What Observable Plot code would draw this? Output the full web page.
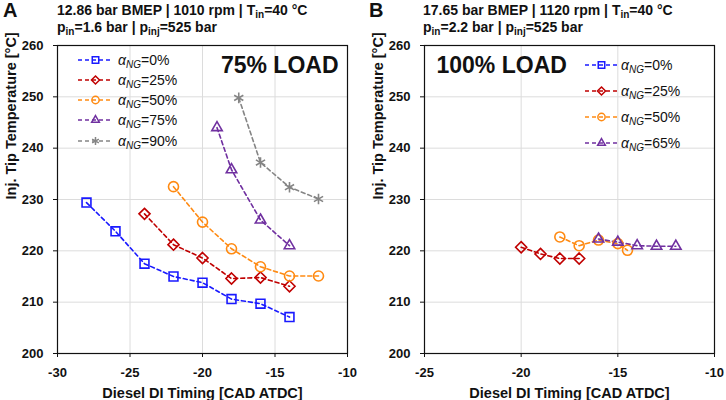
<!DOCTYPE html>
<html>
<head>
<meta charset="utf-8">
<script src="https://cdn.jsdelivr.net/npm/d3@7"></script>
<script src="https://cdn.jsdelivr.net/npm/@observablehq/plot@0.6"></script>
<style>
  body { margin: 0; background: #fff; font-family: "Liberation Sans", Arial, sans-serif; color: #111; }
  #wrap { position: relative; width: 726px; height: 400px; overflow: hidden; }
  #wrap svg.plot { position: absolute; top: 0; }
  .abs { position: absolute; white-space: nowrap; }
  .hdr { font-weight: bold; font-size: 14px; line-height: 16px; }
  .sb { font-size: 10px; position: relative; top: 3px; }
  .letter { font-weight: bold; font-size: 20px; line-height: 20px; }
  .leg { font-size: 14px; line-height: 16px; }
  .leg .sb { font-size: 10px; font-style: italic; top: 3px; }
</style>
</head>
<body>
<div id="wrap"></div>
<script>
// ---------- data ----------
// Panel A: 75% load
const aLabels = ["0%", "25%", "50%", "75%", "90%"];
const a0Timing = [-28, -26, -24, -22, -20, -18, -16, -14];
const a0Temp   = [229.4, 223.8, 217.5, 215.0, 213.8, 210.6, 209.7, 207.1];
const a25Timing = [-24, -22, -20, -18, -16, -14];
const a25Temp   = [227.2, 221.2, 218.6, 214.6, 214.8, 213.1];
const a50Timing = [-22, -20, -18, -16, -14, -12];
const a50Temp   = [232.5, 225.6, 220.4, 216.9, 215.1, 215.1];
const a75Timing = [-19, -18, -16, -14];
const a75Temp   = [244.0, 235.8, 226.0, 221.0];
const a90Timing = [-17.5, -16, -14, -12];
const a90Temp   = [249.8, 237.2, 232.4, 230.1];

// Panel B: 100% load
const bLabels = ["0%", "25%", "50%", "65%"];
const b0Timing = [];
const b0Temp   = [];
const b25Timing = [-20, -19, -18, -17];
const b25Temp   = [220.7, 219.4, 218.5, 218.5];
const b50Timing = [-18, -17, -16, -15, -14.5];
const b50Temp   = [222.7, 221.0, 222.1, 221.4, 220.1];
const b65Timing = [-16, -15, -14, -13, -12];
const b65Temp   = [222.3, 221.7, 221.0, 220.9, 220.9];

const aColors = ["#1a1aff", "#c00000", "#ff8a12", "#7030a0", "#858585"];
const bColors = ["#1a1aff", "#c00000", "#ff8a12", "#7030a0"];
const aSymbols = ["square", "diamond2", "circle", "triangle2", "asterisk"];
const bSymbols = ["square", "diamond2", "circle", "triangle2"];

const aXTicks = [-30, -25, -20, -15, -10];
const bXTicks = [-25, -20, -15, -10];
const yTicks = [200, 210, 220, 230, 240, 250, 260];

const xLabel = "Diesel DI Timing [CAD ATDC]";
const yLabel = "Inj. Tip Temperature [°C]";

// ---------- build rows ----------
function rows(labels, timings, temps) {
  const out = [];
  labels.forEach((lab, i) => {
    timings[i].forEach((t, j) => out.push({series: lab, timing: t, temp: temps[i][j]}));
  });
  return out;
}
const aRows = rows(aLabels, [a0Timing, a25Timing, a50Timing, a75Timing, a90Timing],
                            [a0Temp, a25Temp, a50Temp, a75Temp, a90Temp]);
const bRows = rows(bLabels, [b0Timing, b25Timing, b50Timing, b65Timing],
                            [b0Temp, b25Temp, b50Temp, b65Temp]);

function panel({data, labels, colors, symbols, xTicks, ml, mr, loadText, loadAnchor, loadDx}) {
  return Plot.plot({
    width: 363, height: 400,
    marginTop: 45, marginBottom: 47, marginLeft: ml, marginRight: mr,
    x: {domain: [xTicks[0], xTicks[xTicks.length - 1]]},
    y: {domain: [200, 260]},
    color: {domain: labels, range: colors},
    symbol: {domain: labels, range: symbols},
    style: {fontFamily: "'Liberation Sans', Arial, sans-serif", fontSize: "13px", fontWeight: "bold", color: "#111", background: "transparent", overflow: "visible"},
    marks: [
      Plot.gridX(xTicks, {stroke: "#dcdcdc", strokeOpacity: 1, strokeWidth: 1}),
      Plot.gridY(yTicks, {stroke: "#dcdcdc", strokeOpacity: 1, strokeWidth: 1}),
      Plot.axisX(xTicks, {tickSize: 4, tickPadding: 10, tickFormat: d => String(d), label: null, fontSize: 13, fontWeight: "bold"}),
      Plot.axisY(yTicks, {tickSize: 4, tickPadding: 10, tickFormat: d => String(d), label: null, fontSize: 13, fontWeight: "bold"}),
      Plot.frame({stroke: "#111", strokeWidth: 1.2}),
      Plot.line(data, {x: "timing", y: "temp", z: "series", stroke: "series", strokeWidth: 1.6, strokeDasharray: "4,3"}),
      Plot.dot(data, {x: "timing", y: "temp", symbol: "series", stroke: "series", fill: "none", r: 5, strokeWidth: 1.6}),
      Plot.text([xLabel], {text: d => d, frameAnchor: "bottom", lineAnchor: "middle", dy: 40, fontSize: 14.5, fontWeight: "bold", fill: "#111"}),
      Plot.text([yLabel], {text: d => d, frameAnchor: "left", lineAnchor: "middle", dx: -46, rotate: -90, fontSize: 14.5, fontWeight: "bold", fill: "#111"}),
      Plot.text([loadText], {text: d => d, frameAnchor: loadAnchor, lineAnchor: "middle", textAnchor: loadAnchor === "top-right" ? "end" : "start", dx: loadDx, dy: 20, fontSize: 23, fontWeight: "bold", fill: "#111"})
    ]
  });
}

const wrap = document.getElementById("wrap");

const svgA = panel({data: aRows, labels: aLabels, colors: aColors, symbols: aSymbols, xTicks: aXTicks,
  ml: 57, mr: 16, loadText: "75% LOAD", loadAnchor: "top-right", loadDx: -9});
svgA.classList.add("plot");
svgA.style.left = "0px";
wrap.appendChild(svgA);

const svgB = panel({data: bRows, labels: bLabels, colors: bColors, symbols: bSymbols, xTicks: bXTicks,
  ml: 61, mr: 12, loadText: "100% LOAD", loadAnchor: "top-left", loadDx: 12});
svgB.classList.add("plot");
svgB.style.left = "363px";
wrap.appendChild(svgB);

// ---------- headers ----------
function addHtml(html, cls, left, top) {
  const d = document.createElement("div");
  d.className = "abs " + cls;
  d.style.left = left + "px";
  d.style.top = top + "px";
  d.innerHTML = html;
  wrap.appendChild(d);
  return d;
}
addHtml("A", "letter", 3, 0);
addHtml('12.86 bar BMEP | 1010 rpm | T<span class="sb">in</span>=40 °C', "hdr", 57, 2);
addHtml('p<span class="sb">in</span>=1.6 bar | p<span class="sb">inj</span>=525 bar', "hdr", 57, 19);
addHtml("B", "letter", 369, 0);
addHtml('17.65 bar BMEP | 1120 rpm | T<span class="sb">in</span>=40 °C', "hdr", 423, 2);
addHtml('p<span class="sb">in</span>=2.2 bar | p<span class="sb">inj</span>=525 bar', "hdr", 423, 19);

// ---------- legends ----------
const symMap = {square: d3.symbolSquare, diamond2: d3.symbolDiamond2, circle: d3.symbolCircle,
                triangle2: d3.symbolTriangle2, asterisk: d3.symbolAsterisk};
function legend(labels, colors, symbols, lineX0, lineX1, textX, y0, step) {
  labels.forEach((lab, i) => {
    const cy = y0 + i * step;
    const w = lineX1 - lineX0 + 4;
    const svg = d3.create("svg").attr("width", w).attr("height", 14)
      .style("position", "absolute").style("left", (lineX0 - 2) + "px").style("top", (cy - 7) + "px");
    svg.append("line").attr("x1", 2).attr("x2", w - 2).attr("y1", 7).attr("y2", 7)
      .attr("stroke", colors[i]).attr("stroke-width", 1.5).attr("stroke-dasharray", "4,3");
    svg.append("path").attr("d", d3.symbol(symMap[symbols[i]], 42)())
      .attr("transform", `translate(${w / 2},7)`)
      .attr("fill", "none").attr("stroke", colors[i]).attr("stroke-width", 1.5);
    wrap.appendChild(svg.node());
    addHtml(`<i>α</i><span class="sb">NG</span>=${lab}`, "leg", textX, cy - 8);
  });
}
legend(aLabels, aColors, aSymbols, 78, 113, 118, 59.5, 20.3);
legend(bLabels, bColors, bSymbols, 585, 618, 621, 65, 26);
</script>
</body>
</html>
